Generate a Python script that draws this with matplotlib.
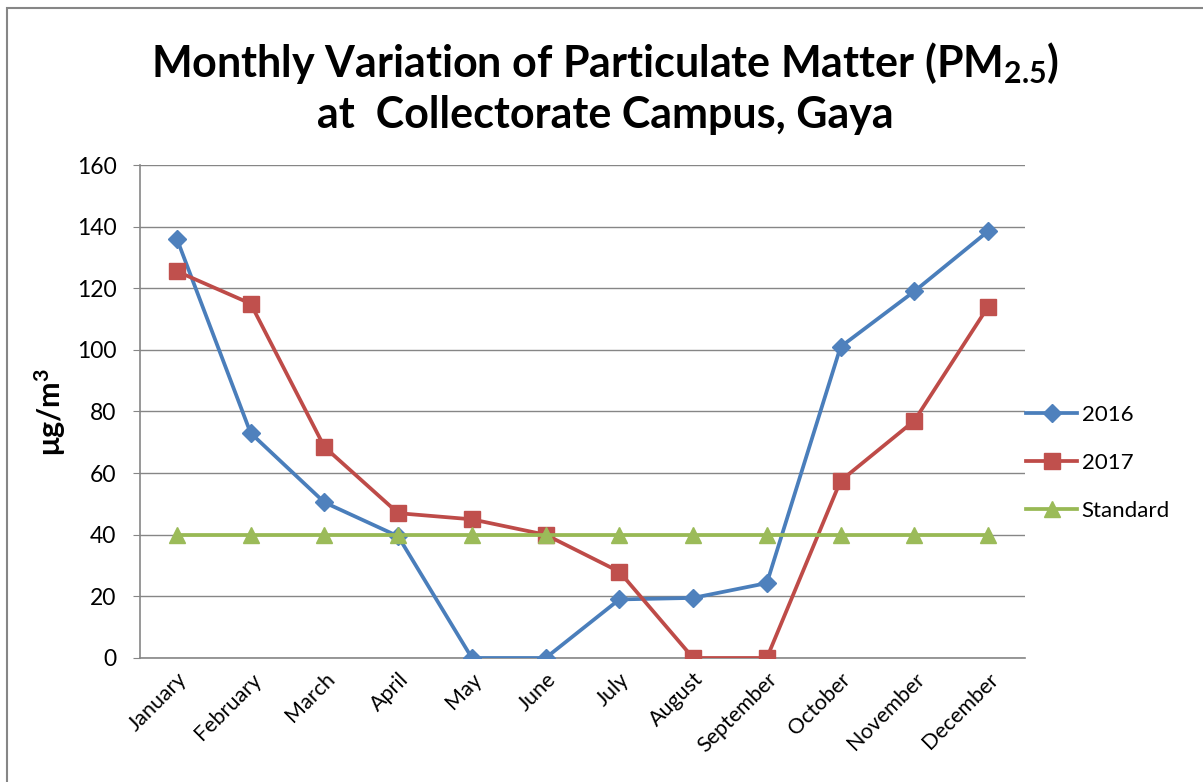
import matplotlib
matplotlib.use("Agg")
import matplotlib.pyplot as plt
from matplotlib.patches import Rectangle

months = ["January", "February", "March", "April", "May", "June", "July",
          "August", "September", "October", "November", "December"]
pm_2016 = [136, 73, 50.5, 39.5, 0, 0, 19, 19.5, 24.3, 101, 119, 138.5]
pm_2017 = [125.5, 115, 68.5, 47, 45, 40, 28, 0, 0, 57.5, 77, 114]
standard = [40] * 12
yticks = [0, 20, 40, 60, 80, 100, 120, 140, 160]

plt.rcParams['font.family'] = ['Lato', 'DejaVu Sans']

fig = plt.figure(figsize=(12.03, 7.82), dpi=100)
ax = fig.add_axes([0.1164, 0.1586, 0.852 - 0.1164, 0.789 - 0.1586])

x = list(range(len(months)))
ax.plot(x, pm_2016, color="#4A7EBB", lw=2.7, marker="D", ms=9,
        mfc="#4F81BD", mec="#4F81BD", label="2016", zorder=3)
ax.plot(x, pm_2017, color="#BE4B48", lw=2.7, marker="s", ms=11,
        mfc="#C0504D", mec="#C0504D", label="2017", zorder=3)
ax.plot(x, standard, color="#98B954", lw=2.7, marker="^", ms=11,
        mfc="#9BBB59", mec="#9BBB59", label="Standard", zorder=3)

ax.set_xlim(-0.5, 11.5)
ax.set_ylim(0, 160)
ax.set_yticks(yticks)
ax.set_yticklabels([str(v) for v in yticks], fontsize=16.5)
ax.set_xticks(x)
ax.set_xticklabels(months, rotation=45, ha="right", rotation_mode="anchor",
                   fontsize=15.5)
ax.tick_params(axis="x", length=0, pad=8)
ax.tick_params(axis="y", length=5, color="#868686", pad=12)
ax.yaxis.grid(True, color="#868686", lw=1)
ax.set_axisbelow(True)
for s in ["top", "right"]:
    ax.spines[s].set_visible(False)
for s in ["left", "bottom"]:
    ax.spines[s].set_color("#868686")
    ax.spines[s].set_linewidth(1.2)

ax.set_ylabel(r"$\mathregular{\mu g/m^3}$", fontsize=22, fontweight="bold", labelpad=6)

fig.text(0.503, 0.92, r"Monthly Variation of Particulate Matter (PM$\mathregular{_{2.5}}$)",
         ha="center", va="center", fontsize=31, fontweight="bold")
fig.text(0.503, 0.853, "at  Collectorate Campus, Gaya",
         ha="center", va="center", fontsize=31, fontweight="bold")

leg = fig.legend(loc="center left", bbox_to_anchor=(0.853, 0.408), frameon=False,
                 fontsize=16, handlelength=2.3, labelspacing=1.25, handletextpad=0.2,
                 borderaxespad=0, borderpad=0)

fig.patches.append(Rectangle((0.006, -0.01), 1.0, 1.0, transform=fig.transFigure,
                             fill=False, edgecolor="#868686", lw=1.5))

fig.savefig("out.png", dpi=100)
